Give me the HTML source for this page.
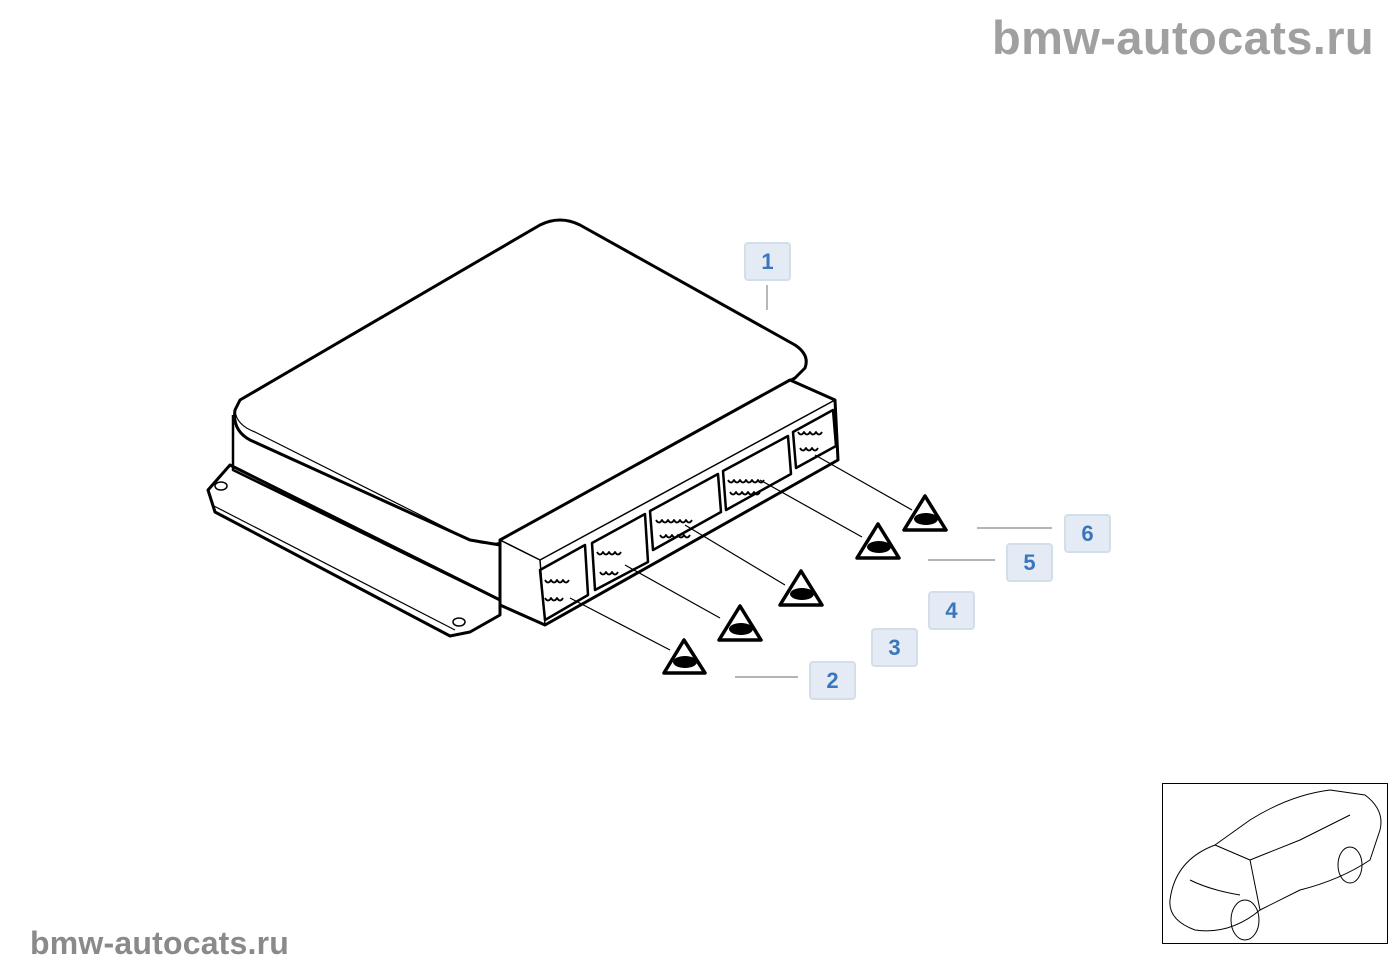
<!DOCTYPE html>
<html><head><meta charset="utf-8"><style>
body{margin:0;width:1400px;height:980px;background:#fff;position:relative;overflow:hidden;font-family:"Liberation Sans",sans-serif}
.wm{position:absolute;color:#a0a0a0;font-weight:bold}
.lb{position:absolute;width:43px;height:35px;background:#e4ebf4;border:2px solid #d3deeb;border-radius:4px;color:#3a76bd;font-weight:bold;font-size:22px;text-align:center;line-height:35px}
</style></head><body>
<div class="wm" style="left:992px;top:10px;font-size:47px;letter-spacing:0.4px">bmw-autocats.ru</div>
<div class="wm" style="left:30px;top:925px;font-size:32px;color:#8a8a8a;letter-spacing:0.2px">bmw-autocats.ru</div>
<svg width="1400" height="980" style="position:absolute;left:0;top:0" fill="none" stroke="#000" stroke-linejoin="round">
<path d="M208 490 L230 465 L240 470 L500 600 L500 615 L470 632 L450 636 L215 512 Z" stroke-width="3"/>
<path d="M212 505 L455 630" stroke-width="1.2"/>
<ellipse cx="221" cy="486" rx="6" ry="4" stroke-width="1.5"/>
<ellipse cx="459" cy="622" rx="6" ry="4" stroke-width="1.5"/>
<path d="M240 400 L540 225 Q560 215 580 225 L795 345 Q810 355 805 368 L795 378 L520 530 L500 545 L470 540 L250 440 Q232 430 235 410 Z" fill="#fff" stroke-width="3"/>
<path d="M235 410 Q236 425 255 432 L470 540 Q490 547 510 540" stroke-width="1.2"/>
<path d="M233 415 L233 470 L500 600" stroke-width="2.5"/>
<path d="M500 540 L790 380 L835 400 L838 460 L545 625 L500 605 Z" fill="#fff" stroke-width="3"/>
<path d="M500 540 L540 560 L835 400" stroke-width="1.5"/>
<path d="M540 560 L545 625" stroke-width="1.5"/>
<g stroke-width="2.5">
<path d="M540 570 L585 545 L588 595 L545 620 Z"/>
<path d="M592 543 L645 514 L648 562 L595 590 Z"/>
<path d="M650 511 L718 474 L721 512 L653 550 Z"/>
<path d="M723 471 L788 436 L791 474 L726 510 Z"/>
<path d="M793 432 L833 410 L836 446 L796 468 Z"/>
</g>
<g stroke-width="1.8">
<path d="M545 580 q3 5 6 0 q3 5 6 0 q3 5 6 0 q3 5 6 0 M545 598 q3 5 6 0 q3 5 6 0 q3 5 6 0"/>
<path d="M597 552 q3 5 6 0 q3 5 6 0 q3 5 6 0 q3 5 6 0 M600 572 q3 5 6 0 q3 5 6 0 q3 5 6 0"/>
<path d="M656 520 q3 5 6 0 q3 5 6 0 q3 5 6 0 q3 5 6 0 q3 5 6 0 q3 5 6 0 M660 535 q3 5 6 0 q3 5 6 0 q3 5 6 0 q3 5 6 0 q3 5 6 0"/>
<path d="M728 480 q3 5 6 0 q3 5 6 0 q3 5 6 0 q3 5 6 0 q3 5 6 0 q3 5 6 0 M730 492 q3 5 6 0 q3 5 6 0 q3 5 6 0 q3 5 6 0 q3 5 6 0"/>
<path d="M798 432 q3 5 6 0 q3 5 6 0 q3 5 6 0 q3 5 6 0 M800 448 q3 5 6 0 q3 5 6 0 q3 5 6 0"/>
</g>
<g stroke-width="1.2">
<path d="M570 598 L670 650"/><path d="M625 565 L720 618"/><path d="M685 525 L785 585"/><path d="M760 480 L862 537"/><path d="M815 455 L912 510"/>
</g>
<g stroke="#888" stroke-width="1.2">
<path d="M767 285 L767 310"/><path d="M735 677 L798 677"/><path d="M928 560 L995 560"/><path d="M977 528 L1052 528"/>
</g>
<g stroke-width="3.5" fill="#fff">
<path d="M684 640 L705 673 L664 673 Z"/><path d="M740 606 L761 640 L719 640 Z"/><path d="M801 571 L822 605 L780 605 Z"/><path d="M878 524 L899 558 L857 558 Z"/><path d="M925 496 L946 530 L904 530 Z"/>
</g>
<g fill="#000" stroke="none">
<ellipse cx="685" cy="662" rx="12" ry="6"/><ellipse cx="741" cy="629" rx="12" ry="6"/><ellipse cx="802" cy="594" rx="12" ry="6"/><ellipse cx="879" cy="547" rx="12" ry="6"/><ellipse cx="926" cy="519" rx="12" ry="6"/>
</g>
<rect x="1162.5" y="783.5" width="225" height="160" stroke="#000" stroke-width="1"/>
<g stroke-width="1">
<path d="M1170 900 Q1175 860 1215 845 L1250 820 Q1290 795 1330 790 L1365 795 Q1385 810 1380 830 L1370 860 Q1340 880 1300 890 L1260 910 Q1230 935 1195 930 Q1168 920 1170 900 Z"/>
<path d="M1215 845 L1250 860 L1300 840 L1350 815 M1250 860 L1260 910 M1190 880 Q1210 890 1240 895"/>
<ellipse cx="1245" cy="920" rx="14" ry="20"/><ellipse cx="1350" cy="865" rx="12" ry="18"/>
</g>
</svg>
<div class="lb" style="left:744px;top:242px">1</div>
<div class="lb" style="left:809px;top:661px">2</div>
<div class="lb" style="left:871px;top:628px">3</div>
<div class="lb" style="left:928px;top:591px">4</div>
<div class="lb" style="left:1006px;top:543px">5</div>
<div class="lb" style="left:1064px;top:514px">6</div>
</body></html>
